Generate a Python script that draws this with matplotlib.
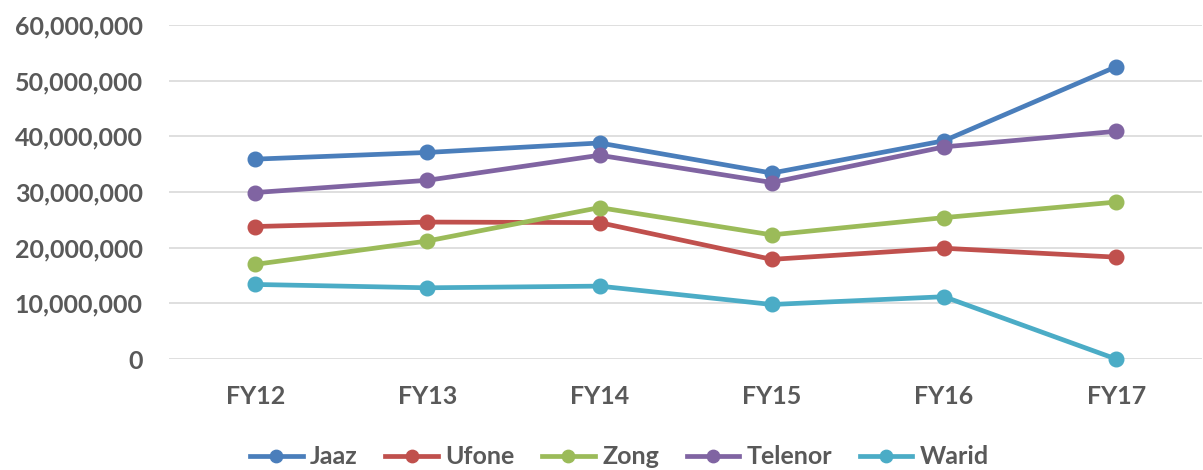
import matplotlib
matplotlib.use("Agg")
import matplotlib.pyplot as plt
from matplotlib.ticker import FuncFormatter

# data
years = ["FY12", "FY13", "FY14", "FY15", "FY16", "FY17"]
jaaz = [35.9e6, 37.1e6, 38.8e6, 33.4e6, 39.2e6, 52.5e6]
ufone = [23.8e6, 24.6e6, 24.5e6, 17.9e6, 19.9e6, 18.3e6]
zong = [17.0e6, 21.2e6, 27.2e6, 22.3e6, 25.4e6, 28.2e6]
telenor = [29.9e6, 32.1e6, 36.6e6, 31.7e6, 38.1e6, 40.9e6]
warid = [13.4e6, 12.8e6, 13.1e6, 9.8e6, 11.2e6, 0]

names = ["Jaaz", "Ufone", "Zong", "Telenor", "Warid"]
colors = ["#4a7ebb", "#c0504d", "#9bbb59", "#8064a2", "#4bacc6"]

plt.rcParams['font.family'] = ['Lato', 'DejaVu Sans']
plt.rcParams['font.weight'] = 'bold'
txt = "#595959"

fig = plt.figure(figsize=(12.03, 4.70), dpi=100)
ax = fig.add_axes([0.1405, 0.236, 0.859, 0.711])

x = range(len(years))
for vals, name, col in zip([jaaz, ufone, zong, telenor, warid], names, colors):
    ax.plot(x, vals, color=col, lw=3.4, marker='o', ms=10.5, label=name,
            clip_on=False, zorder=3)

ax.set_xlim(-0.5, len(years) - 0.5)
ax.set_ylim(0, 60e6)
ax.set_yticks(range(0, 60000001, 10000000))
ax.yaxis.set_major_formatter(FuncFormatter(lambda v, p: f"{int(v):,}"))
ax.set_xticks(list(x))
ax.set_xticklabels(years)

ax.grid(axis='y', color='#d9d9d9', lw=1.2)
ax.set_axisbelow(True)
for s in ax.spines.values():
    s.set_visible(False)
ax.tick_params(length=0, labelsize=18, labelcolor=txt)
ax.tick_params(axis='y', pad=19)
ax.tick_params(axis='x', pad=19)

leg = fig.legend(loc='center', bbox_to_anchor=(0.515, 0.028), ncol=5, frameon=False,
                 fontsize=18, handlelength=2.1, columnspacing=1.1, handletextpad=0.3,
                 markerscale=0.85)
for t in leg.get_texts():
    t.set_color(txt)

fig.savefig("out.png", dpi=100)
